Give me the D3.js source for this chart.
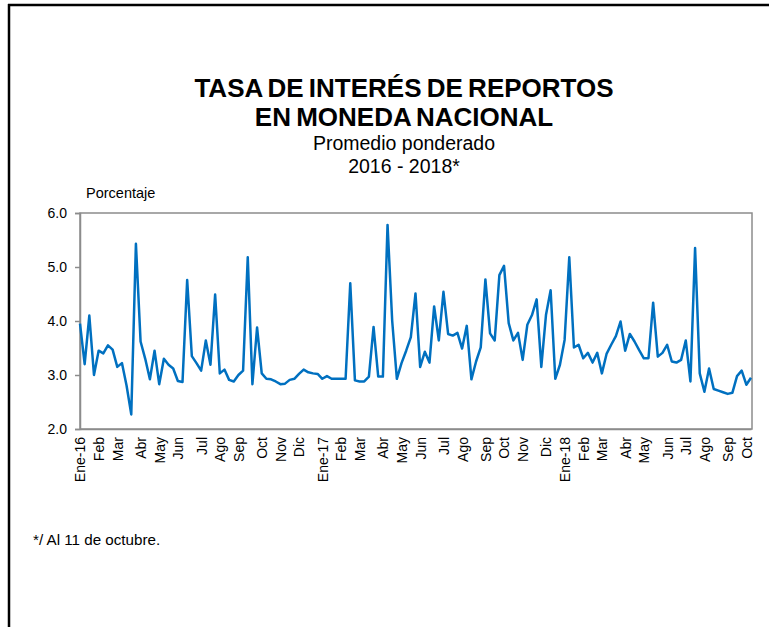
<!DOCTYPE html>
<html><head><meta charset="utf-8">
<script src="https://cdn.jsdelivr.net/npm/d3@7"></script>
<style>body{margin:0;background:#fff}svg{display:block}text{font-family:"Liberation Sans",Arial,sans-serif;fill:#000}</style>
</head><body><svg id="c" width="769" height="627"></svg>
<script>
// Weekly data (Thursdays, 2016-01-07 .. 2018-10-11)
const values = [
3.95,3.20,4.10,3.00,3.45,3.40,3.55,3.47,3.15,3.22,
2.80,2.27,5.43,3.62,3.30,2.92,3.45,2.83,3.30,3.19,
3.12,2.89,2.87,4.76,3.35,3.22,3.08,3.64,3.19,4.49,
3.03,3.10,2.91,2.88,3.00,3.08,5.18,2.83,3.88,3.03,
2.93,2.92,2.88,2.83,2.84,2.91,2.93,3.02,3.10,3.05,
3.03,3.02,2.93,2.98,2.93,2.93,2.93,2.93,4.70,2.90,
2.88,2.88,2.97,3.89,2.97,2.97,5.78,4.00,2.93,3.22,
3.45,3.70,4.51,3.15,3.43,3.23,4.27,3.64,4.54,3.76,
3.73,3.78,3.49,3.91,2.92,3.25,3.51,4.77,3.77,3.64,
4.85,5.02,3.96,3.64,3.78,3.28,3.93,4.11,4.40,3.15,
4.11,4.57,2.93,3.19,3.65,5.18,3.51,3.56,3.31,3.41,
3.23,3.41,3.03,3.39,3.56,3.72,3.99,3.45,3.76,3.62,
3.46,3.31,3.31,4.34,3.34,3.41,3.56,3.25,3.23,3.28,
3.64,2.88,5.35,3.03,2.69,3.12,2.74,2.71,2.68,2.65,
2.67,2.98,3.08,2.82,2.95];
const categories = values.map((d,i)=>i); // week index
const tickLabels = ["Ene-16","Feb","Mar","Abr","May","Jun","Jul","Ago","Sep","Oct","Nov","Dic",
 "Ene-17","Feb","Mar","Abr","May","Jun","Jul","Ago","Sep","Oct","Nov","Dic",
 "Ene-18","Feb","Mar","Abr","May","Jun","Jul","Ago","Sep","Oct"];
const tickIndex = [0,4,8,13,17,21,26,30,34,39,43,47,52,56,60,65,69,73,78,82,87,91,95,100,104,108,112,117,121,126,130,134,139,143];
const yTicks = [2.0,3.0,4.0,5.0,6.0];

const svg = d3.select("#c");
const L=80,R=751,T=213,B=429;
const x = d3.scalePoint().domain(categories).range([L,R]);
const y = d3.scaleLinear().domain([2,6]).range([B,T]);

// outer frame
svg.append("line").attr("x1",8).attr("x2",769).attr("y1",5).attr("y2",5).attr("stroke","#000").attr("stroke-width",2.5);
svg.append("line").attr("x1",9).attr("x2",9).attr("y1",4).attr("y2",627).attr("stroke","#000").attr("stroke-width",2.5);

// titles
const cx=404;
svg.append("text").attr("x",cx).attr("y",97).attr("text-anchor","middle").attr("font-size",26).attr("font-weight","bold").attr("word-spacing","-2px").text("TASA DE INTERÉS DE REPORTOS");
svg.append("text").attr("x",cx).attr("y",126).attr("text-anchor","middle").attr("font-size",26).attr("font-weight","bold").attr("word-spacing","-2px").text("EN MONEDA NACIONAL");
svg.append("text").attr("x",cx).attr("y",150).attr("text-anchor","middle").attr("font-size",19.5).text("Promedio ponderado");
svg.append("text").attr("x",cx).attr("y",173).attr("text-anchor","middle").attr("font-size",19.5).text("2016 - 2018*");
svg.append("text").attr("x",86).attr("y",198).attr("font-size",14.5).text("Porcentaje");

// plot box
svg.append("rect").attr("x",L).attr("y",T).attr("width",R-L+1).attr("height",B-T).attr("fill","none").attr("stroke","#8c8c8c").attr("stroke-width",1.5);

// y axis
const ya = svg.append("g").attr("transform",`translate(${L},0)`)
 .call(d3.axisLeft(y).tickValues(yTicks).tickFormat(d3.format(".1f")).tickSize(5).tickPadding(8));
ya.select(".domain").attr("stroke","#8c8c8c").attr("stroke-width",1.5);
ya.selectAll(".tick line").attr("stroke","#8c8c8c").attr("stroke-width",1.5);
ya.selectAll(".tick text").attr("font-size",14).attr("fill","#000").style("font-family","Liberation Sans, Arial");

// x axis
const xa = svg.append("g").attr("transform",`translate(0,${B})`)
 .call(d3.axisBottom(x).tickValues(tickIndex).tickFormat((d,i)=>tickLabels[i]).tickSize(0).tickPadding(0));
xa.select(".domain").attr("stroke","#8c8c8c").attr("stroke-width",1.5);
xa.selectAll(".tick text").attr("font-size",14).attr("fill","#000").style("font-family","Liberation Sans, Arial")
 .attr("text-anchor","end").attr("transform","rotate(-90)").attr("x",-8).attr("y",0).attr("dy","0.35em");

// line
svg.append("path").datum(values).attr("fill","none").attr("stroke","#0070c0").attr("stroke-width",2.5)
 .attr("stroke-linejoin","round")
 .attr("d",d3.line().x((d,i)=>x(categories[i])).y(d=>y(d)));

svg.append("text").attr("x",33).attr("y",545).attr("font-size",15.2).text("*/ Al 11 de octubre.");
</script></body></html>
